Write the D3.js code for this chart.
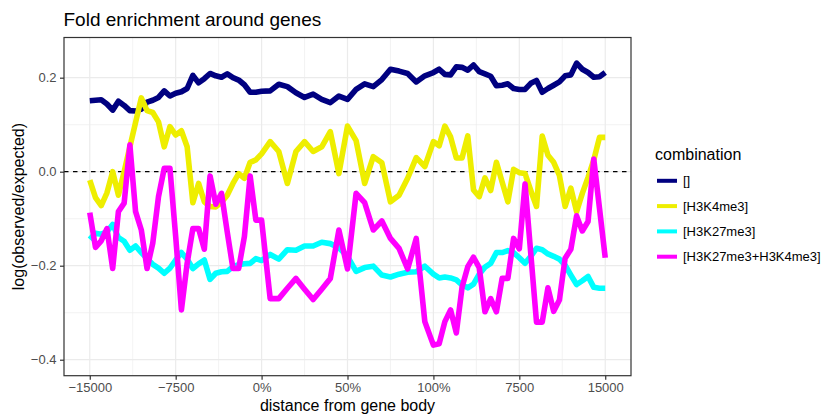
<!DOCTYPE html>
<html><head><meta charset="utf-8">
<script src="https://cdn.jsdelivr.net/npm/d3@7"></script>
<style>
body{margin:0;background:#fff}
svg{display:block}
text{font-family:"Liberation Sans",Arial,Helvetica,sans-serif}
</style>
</head><body>
<svg id="chart" width="828" height="415"></svg>
<script>
// ---------- data ----------
const upstreamBins = [-15000,-14500,-14000,-13500,-13000,-12500,-12000,-11500,-11000,-10500,-10000,-9500,-9000,-8500,-8000,-7500,-7000,-6500,-6000,-5500,-5000,-4500,-4000,-3500,-3000,-2500,-2000,-1500,-1000,-500];
const geneBodyBins = [0,5,10,15,20,25,30,35,40,45,50,55,60,65,70,75,80,85,90,95,100];
const downstreamBins = [500,1000,1500,2000,2500,3000,3500,4000,4500,5000,5500,6000,6500,7000,7500,8000,8500,9000,9500,10000,10500,11000,11500,12000,12500,13000,13500,14000,14500,15000];

const seriesNames = ["[]","[H3K4me3]","[H3K27me3]","[H3K27me3+H3K4me3]"];
const seriesColors = ["#000080","#EEEE00","#00FFFF","#FF00FF"];

const valuesNone = [
  0.151,0.152,0.153,0.144,0.131,0.150,0.141,0.130,0.129,0.133,0.148,0.152,0.158,0.172,0.161,0.167,0.170,0.177,0.205,0.189,0.198,0.209,0.204,0.201,0.208,0.200,0.195,0.185,0.169,0.169,
  0.171,0.172,0.186,0.181,0.168,0.158,0.165,0.154,0.147,0.161,0.154,0.175,0.187,0.181,0.196,0.218,0.214,0.209,0.191,0.204,0.211,
  0.218,0.207,0.206,0.223,0.222,0.216,0.227,0.213,0.208,0.203,0.183,0.184,0.187,0.177,0.175,0.175,0.188,0.194,0.169,0.177,0.184,0.191,0.204,0.206,0.231,0.218,0.211,0.201,0.202,0.211];
const valuesK4 = [
  -0.018,-0.055,-0.072,-0.045,0.000,-0.050,0.000,0.053,0.105,0.157,0.130,0.126,0.106,0.053,0.096,0.078,0.087,0.053,-0.066,-0.025,-0.064,-0.074,-0.075,-0.065,-0.050,-0.025,-0.004,-0.014,0.020,0.025,
  0.038,0.064,0.043,-0.025,0.043,0.064,0.043,0.053,0.085,-0.004,0.097,0.066,-0.025,0.032,0.019,-0.064,-0.050,-0.014,0.030,0.011,0.064,
  0.055,0.097,0.074,0.029,0.029,0.076,-0.039,-0.053,-0.013,-0.040,0.020,-0.022,-0.064,0.005,-0.002,-0.004,-0.040,-0.074,0.076,0.035,0.020,-0.008,-0.074,-0.035,-0.085,-0.046,-0.012,0.025,0.073,0.073];
const valuesK27 = [
  -0.144,-0.131,-0.133,-0.128,-0.112,-0.140,-0.148,-0.167,-0.158,-0.172,-0.185,-0.197,-0.205,-0.216,-0.205,-0.188,-0.172,-0.186,-0.206,-0.196,-0.188,-0.229,-0.216,-0.213,-0.212,-0.202,-0.198,-0.196,-0.195,-0.185,
  -0.189,-0.176,-0.186,-0.166,-0.167,-0.158,-0.158,-0.150,-0.153,-0.162,-0.180,-0.212,-0.204,-0.201,-0.220,-0.224,-0.218,-0.214,-0.213,-0.201,-0.218,
  -0.226,-0.224,-0.226,-0.230,-0.241,-0.247,-0.239,-0.218,-0.203,-0.195,-0.172,-0.172,-0.168,-0.172,-0.183,-0.195,-0.180,-0.163,-0.166,-0.175,-0.180,-0.186,-0.199,-0.220,-0.240,-0.232,-0.223,-0.246,-0.248,-0.248];
const valuesBoth = [
  -0.087,-0.161,-0.147,-0.121,-0.206,-0.085,-0.067,0.057,-0.085,-0.124,-0.206,-0.152,-0.053,0.007,0.007,-0.138,-0.294,-0.195,-0.121,-0.121,-0.165,-0.009,-0.069,-0.046,-0.128,-0.206,-0.206,-0.138,-0.009,-0.103,
  -0.103,-0.270,-0.270,-0.248,-0.227,-0.250,-0.272,-0.250,-0.227,-0.124,-0.207,-0.046,-0.066,-0.124,-0.105,-0.142,-0.163,-0.207,-0.142,-0.319,-0.369,
  -0.366,-0.319,-0.294,-0.343,-0.246,-0.202,-0.182,-0.204,-0.298,-0.270,-0.298,-0.227,-0.227,-0.142,-0.164,-0.026,-0.174,-0.320,-0.320,-0.247,-0.297,-0.273,-0.184,-0.165,-0.094,-0.126,-0.106,0.027,-0.078,-0.183];

const xTickRegions = ["up","up","body","body","body","down","down"];
const xTickBins = [-15000,-7500,0,50,100,7500,15000];
const xTickLabels = ["\u221215000","\u22127500","0%","50%","100%","7500","15000"];
const yTickValues = [-0.4,-0.2,0,0.2];
const yTickLabels = ["\u22120.4","\u22120.2","0.0","0.2"];

const titleText = "Fold enrichment around genes";
const xTitle = "distance from gene body";
const yTitle = "log(observed/expected)";
const legendTitle = "combination";

// ---------- layout ----------
const svg = d3.select("#chart");
const panel = {left:64, right:631, top:37.5, bottom:375.7};

function axisCoord(region, bin){
  if(region === "up") return (bin + 15000) / 7500;
  if(region === "body") return 2 + bin / 50;
  return 4 + bin / 7500;
}
const bins = [
  ...upstreamBins.map(b => ({region:"up", bin:b})),
  ...geneBodyBins.map(b => ({region:"body", bin:b})),
  ...downstreamBins.map(b => ({region:"down", bin:b}))
];
const allValues = [valuesNone, valuesK4, valuesK27, valuesBoth];

const x = d3.scaleLinear().domain([-0.3, 6.3]).range([panel.left, panel.right]);
const y = d3.scaleLinear().domain([-0.434, 0.2855]).range([panel.bottom, panel.top]);

const xTickPos = xTickBins.map((b,i) => axisCoord(xTickRegions[i], b));

// panel background
svg.append("rect").attr("x",panel.left).attr("y",panel.top)
  .attr("width",panel.right-panel.left).attr("height",panel.bottom-panel.top).attr("fill","#fff");

// grid
const g = svg.append("g");
const yMinor = [-0.3,-0.1,0.1];
const xMinor = xTickPos.slice(1).map((p,i)=>(p+xTickPos[i])/2);
g.selectAll(".ymin").data(yMinor).enter().append("line")
  .attr("x1",panel.left).attr("x2",panel.right).attr("y1",d=>y(d)).attr("y2",d=>y(d))
  .attr("stroke","#EBEBEB").attr("stroke-width",0.6);
g.selectAll(".xmin").data(xMinor).enter().append("line")
  .attr("y1",panel.top).attr("y2",panel.bottom).attr("x1",d=>x(d)).attr("x2",d=>x(d))
  .attr("stroke","#EBEBEB").attr("stroke-width",0.6);
g.selectAll(".ymaj").data(yTickValues).enter().append("line")
  .attr("x1",panel.left).attr("x2",panel.right).attr("y1",d=>y(d)).attr("y2",d=>y(d))
  .attr("stroke","#EBEBEB").attr("stroke-width",1.2);
g.selectAll(".xmaj").data(xTickPos).enter().append("line")
  .attr("y1",panel.top).attr("y2",panel.bottom).attr("x1",d=>x(d)).attr("x2",d=>x(d))
  .attr("stroke","#EBEBEB").attr("stroke-width",1.2);

// zero reference line
svg.append("line").attr("x1",panel.left).attr("x2",panel.right)
  .attr("y1",y(0)).attr("y2",y(0))
  .attr("stroke","#000").attr("stroke-width",1.2).attr("stroke-dasharray","4.5,4.5");

// series lines
const line = d3.line().x(d=>x(d.u)).y(d=>y(d.v));
allValues.forEach((vals, si) => {
  const pts = bins.map((b,i)=>({u:axisCoord(b.region,b.bin), v:vals[i]}));
  svg.append("path").datum(pts).attr("d",line)
    .attr("fill","none").attr("stroke",seriesColors[si])
    .attr("stroke-width",5.6).attr("stroke-linejoin","round").attr("stroke-linecap","butt");
});

// panel border
svg.append("rect").attr("x",panel.left).attr("y",panel.top)
  .attr("width",panel.right-panel.left).attr("height",panel.bottom-panel.top)
  .attr("fill","none").attr("stroke","#333333").attr("stroke-width",1.2);

// axes
const xAxis = d3.axisBottom(x).tickValues(xTickPos).tickFormat((d,i)=>xTickLabels[i]).tickSize(4).tickPadding(3.5);
const gx = svg.append("g").attr("transform",`translate(0,${panel.bottom})`).call(xAxis);
const yAxis = d3.axisLeft(y).tickValues(yTickValues).tickFormat((d,i)=>yTickLabels[i]).tickSize(4).tickPadding(3.5);
const gy = svg.append("g").attr("transform",`translate(${panel.left},0)`).call(yAxis);
[gx,gy].forEach(a=>{
  a.select(".domain").remove();
  a.selectAll(".tick line").attr("stroke","#333333").attr("stroke-width",1.2);
  a.selectAll(".tick text").attr("fill","#4D4D4D").style("font-size","13px")
    .style("font-family","'Liberation Sans',Arial,sans-serif");
});

// titles
svg.append("text").attr("x",63.5).attr("y",26).text(titleText)
  .style("font-size","19px").attr("fill","#000");
svg.append("text").attr("x",(panel.left+panel.right)/2).attr("y",410.5)
  .attr("text-anchor","middle").text(xTitle).style("font-size","16px").attr("fill","#000");
svg.append("text").attr("transform",`translate(24,${(panel.top+panel.bottom)/2}) rotate(-90)`)
  .attr("text-anchor","middle").text(yTitle).style("font-size","16px").attr("fill","#000");

// legend
const lg = svg.append("g");
lg.append("text").attr("x",655).attr("y",159.5).text(legendTitle)
  .style("font-size","16px").attr("fill","#000");
seriesNames.forEach((name,i)=>{
  const cy = 180.8 + i*25.3;
  lg.append("line").attr("x1",657).attr("x2",677).attr("y1",cy).attr("y2",cy)
    .attr("stroke",seriesColors[i]).attr("stroke-width",4);
  lg.append("text").attr("x",683).attr("y",cy).attr("dy","0.35em").text(name)
    .style("font-size","13px").attr("fill","#000");
});
</script>
</body></html>
